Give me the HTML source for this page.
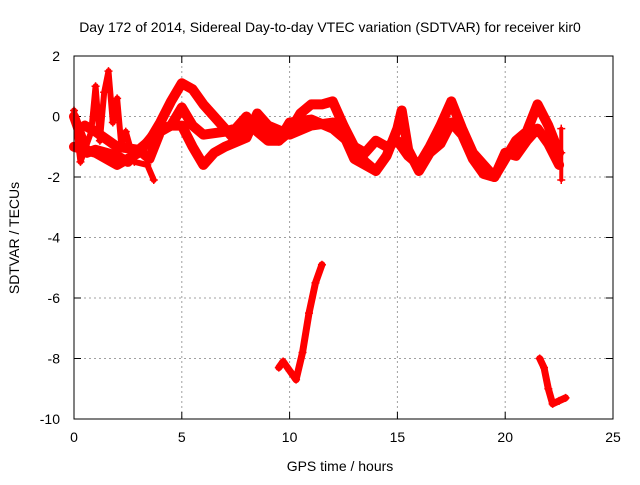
<!DOCTYPE html>
<html><head><meta charset="utf-8"><style>
body{margin:0;background:#fff}
svg text{font-family:"Liberation Sans",sans-serif;font-size:14px;fill:#000}
</style></head><body>
<svg id="c" width="640" height="480">
<rect width="640" height="480" fill="#fff"/>
<text x="330" y="32" text-anchor="middle">Day 172 of 2014, Sidereal Day-to-day VTEC variation (SDTVAR) for receiver kir0</text>
<text x="340" y="471" text-anchor="middle">GPS time / hours</text>
<text transform="translate(19,238) rotate(-90)" text-anchor="middle">SDTVAR / TECUs</text>
<g id="grid"></g><g id="marks"></g>
<rect x="74" y="56" width="539" height="363" fill="none" stroke="#000" stroke-width="1"/>
</svg>
<script>
const xTicks=[0,5,10,15,20,25];
const yTicks=[2,0,-2,-4,-6,-8,-10];
const trackAt=[0,0.3,0.6,1,1.5,2,2.5,3,3.5,4,4.5,5,5.5,6,6.5,7,7.5,8,8.5,9,9.5,10,10.5,11,11.5,12,12.5,13,13.5,14];
const trackAv=[0,-0.6,-1.2,-1.1,-1.2,-1.3,-1.5,-1.1,-0.8,-0.2,0.5,1.1,0.9,0.4,0,-0.4,-0.8,-0.3,-0.1,-0.6,-0.8,-0.5,0.1,0.4,0.4,0.5,-0.3,-1,-1.5,-1.8];
const trackBt=[0,1,2,3,3.8,4.5,5,5.5,6,7,7.5,8,8.5,9,9.5,10,11,12,13,13.5,14,14.5,15,15.5,16,16.5,17,17.5,18,18.5,19,19.5,20,20.5,21,21.5,22,22.5];
const trackBv=[-1,-1.2,-1.6,-1.2,-0.5,-0.3,0.3,-0.3,-0.6,-0.5,-0.4,0,-0.5,-0.8,-0.8,-0.2,-0.1,-0.4,-1,-1.2,-0.8,-1,-0.8,-1.3,-1.6,-1.0,-0.3,0.5,-0.4,-1.2,-1.6,-2,-1.4,-0.8,-0.5,0.4,-0.3,-1.2];
const trackCt=[0.5,1,2,3,3.5,4,4.5,5,5.5,6,6.5,7,8,8.5,9,10,11,12,12.5,13,14,14.5,15,15.2,15.5,16,16.5,17,17.5,18,18.5,19,19.5,20,20.5,21,21.5,22,22.5];
const trackCv=[-0.3,-0.5,-1,-1.1,-1.4,-0.5,-0.3,-0.3,-1,-1.6,-1.2,-1,-0.7,0.1,-0.3,-0.6,-0.3,-0.2,-0.6,-1.4,-1.8,-1.3,-0.4,0.2,-1.1,-1.8,-1.2,-0.9,-0.2,-0.6,-1.4,-1.9,-2,-1.2,-1.3,-0.8,-0.4,-0.9,-1.6];
const spikeT=[0,0.3,0.8,1,1.2,1.4,1.6,1.8,2,2.2,2.4,2.8,3.4,3.7];
const spikeV=[0.2,-1.5,-0.5,1.0,-0.8,0.8,1.5,-0.2,0.6,-1.0,-0.5,-1.5,-1.6,-2.1];
const drop1T=[9.5,9.7,10,10.3,10.6,10.9,11.2,11.5];
const drop1V=[-8.3,-8.1,-8.4,-8.7,-7.8,-6.5,-5.5,-4.9];
const drop2T=[21.6,21.8,22,22.2,22.5,22.8];
const drop2V=[-8,-8.3,-9,-9.5,-9.4,-9.3];
const endT=[22.6,22.6,22.6];
const endV=[-0.4,-1.2,-2.1];
const X=h=>74+h*539/25, Y=v=>116.5-v*30.25;
const NS='http://www.w3.org/2000/svg';
const grid=document.getElementById('grid'), marks=document.getElementById('marks');
function mk(t,a,p){const e=document.createElementNS(NS,t);for(const k in a)e.setAttribute(k,a[k]);p.appendChild(e);return e;}
xTicks.forEach(t=>{const x=X(t);
 if(t>0&&t<25){const l=mk('line',{x1:x,x2:x,y1:56,y2:419,stroke:'#a0a0a0','stroke-dasharray':'2,3'},grid);
 
 }
 mk('line',{x1:x,x2:x,y1:419,y2:412,stroke:'#000'},grid);mk('line',{x1:x,x2:x,y1:56,y2:63,stroke:'#000'},grid);
 const tx=mk('text',{x:x,y:442,'text-anchor':'middle'},grid);tx.textContent=t;
 
 });
yTicks.forEach(t=>{const y=Y(t);
 if(t>-10&&t<2){const l=mk('line',{x1:74,x2:613,y1:y,y2:y,stroke:'#a0a0a0','stroke-dasharray':'2,3'},grid);
 
 }
 mk('line',{x1:74,x2:81,y1:y,y2:y,stroke:'#000'},grid);mk('line',{x1:613,x2:606,y1:y,y2:y,stroke:'#000'},grid);
 const tx=mk('text',{x:60,y:y+5,'text-anchor':'end'},grid);tx.textContent=t;
 
 });
function series(ts,vs,name,w){
 const d=ts.map((t,i)=>(i?'L':'M')+X(t)+','+Y(vs[i])).join('');
 const p=mk('path',{d:d,fill:'none',stroke:'#ff0000','stroke-width':w,'stroke-linejoin':'round','stroke-linecap':'round'},marks);
 
 
 ts.forEach((t,i)=>{const x=X(t),y=Y(vs[i]);
  const m=mk('path',{d:`M${x-4},${y}h8M${x},${y-4}v8`,stroke:'#ff0000','stroke-width':1.5},marks);
  
  });
}
series(trackAt,trackAv,'track-a',10);
series(trackBt,trackBv,'track-b',10);
series(trackCt,trackCv,'track-c',10);
series(spikeT,spikeV,'early-spikes',6);
series(drop1T,drop1V,'drop-10h',7);
series(drop2T,drop2V,'drop-22h',7);
series(endT,endV,'end-spike',4);
</script>
</body></html>
